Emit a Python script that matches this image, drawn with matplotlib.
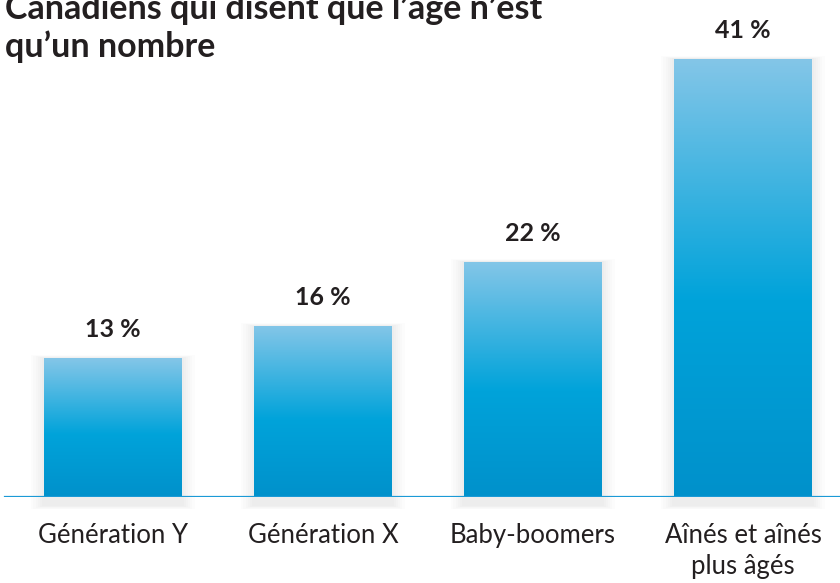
import numpy as np
import matplotlib
matplotlib.use('Agg')
import matplotlib.pyplot as plt
from matplotlib.colors import LinearSegmentedColormap
from matplotlib.patches import Rectangle

# données
categories = ['Génération Y', 'Génération X', 'Baby-boomers', 'Aînés et aînés\nplus âgés']
valeurs = [13, 16, 22, 41]
etiquettes = ['13 %', '16 %', '22 %', '41 %']
titre = 'Canadiens qui disent que l\u2019âge n\u2019est\nqu\u2019un nombre'

plt.rcParams['font.family'] = ['Lato', 'DejaVu Sans']

fig = plt.figure(figsize=(8.4, 5.83), dpi=100)
ax = fig.add_axes([0, 1 - 497 / 583, 1, 497 / 583])
ax.set_xlim(-0.538, 3.462)
ax.axis('off')

largeur = 0.657
x = np.arange(len(valeurs))

# dégradé vertical (haut clair -> bas bleu)
cmap = LinearSegmentedColormap.from_list('bleu', [(0, '#0091cb'), (0.45, '#00a3da'), (1, '#84c6e8')])
grad = np.linspace(0, 1, 256).reshape(-1, 1)

for xi, v in zip(x, valeurs):
    # ombre douce
    for k in range(6):
        e = 0.01 * (k + 1)
        ax.add_patch(Rectangle((xi - largeur / 2 - e, -0.8 - e * 6), largeur + 2 * e, v + 0.8 + e * 10,
                               facecolor='black', alpha=0.012, lw=0, zorder=1, clip_on=False))
    bar = ax.bar(xi, v, width=largeur, color='none', lw=0, zorder=3)[0]
    im = ax.imshow(grad, cmap=cmap, aspect='auto', origin='lower',
                   extent=[xi - largeur / 2, xi + largeur / 2, 0, v], zorder=3)
    im.set_clip_path(bar)

for xi, v, lab in zip(x, valeurs, etiquettes):
    ax.annotate(lab, (xi, v), xytext=(0, 12), textcoords='offset points',
                ha='center', va='bottom', fontsize=18, fontweight='bold', color='#231f20')

for xi, cat in zip(x, categories):
    ax.annotate(cat, (xi, 0), xytext=(0, -19), textcoords='offset points',
                ha='center', va='top', fontsize=18.5, color='#231f20', linespacing=1.3,
                annotation_clip=False)

# ligne de base
ax.axhline(0, xmin=5 / 840, xmax=1, color='#1b9ad6', lw=1.6, zorder=4)

fig.text(5 / 840, 1 - 57 / 583, titre, ha='left', va='baseline', fontsize=24.5,
         fontweight='bold', color='#231f20', linespacing=1.2)

ax.set_ylim(0, 46.5)
fig.savefig('out.png', dpi=100)
